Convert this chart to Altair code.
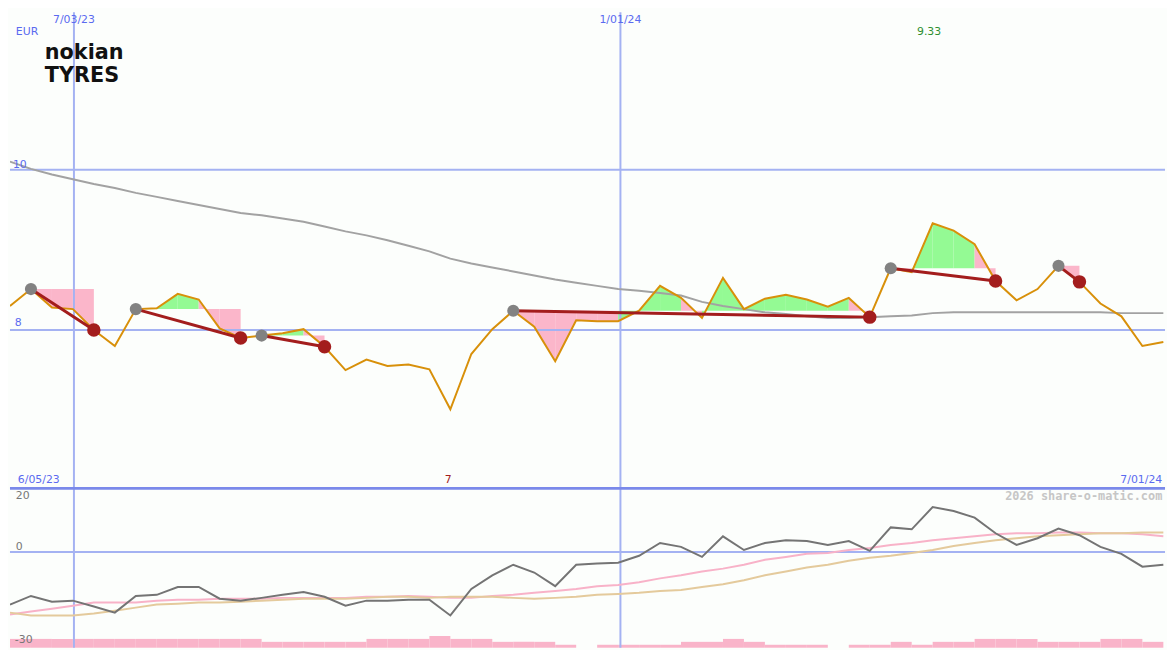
import altair as alt
import pandas as pd

# ---------------- data ----------------
# closing prices (EUR), one per observation, left to right
price = [8.30, 8.51, 8.28, 8.26, 8.00, 7.80, 8.26, 8.27, 8.45, 8.38,
         8.02, 7.90, 7.93, 7.96, 8.01, 7.79, 7.50, 7.63, 7.55, 7.57,
         7.51, 7.01, 7.70, 8.01, 8.24, 8.04, 7.61, 8.12, 8.11, 8.11,
         8.24, 8.55, 8.40, 8.15, 8.65, 8.26, 8.39, 8.44, 8.38, 8.29,
         8.40, 8.16, 8.77, 8.72, 9.33, 9.24, 9.07, 8.61, 8.37, 8.51,
         8.80, 8.60, 8.33, 8.17, 7.80, 7.85]
# long moving average (grey)
ma_long = [10.10, 10.01, 9.94, 9.88, 9.82, 9.77, 9.71, 9.66, 9.61, 9.56,
           9.51, 9.46, 9.43, 9.39, 9.35, 9.29, 9.23, 9.18, 9.12, 9.05,
           8.98, 8.89, 8.83, 8.78, 8.73, 8.68, 8.63, 8.59, 8.55, 8.51,
           8.49, 8.46, 8.43, 8.35, 8.30, 8.26, 8.22, 8.20, 8.17, 8.15,
           8.15, 8.16, 8.17, 8.18, 8.21, 8.22, 8.22, 8.22, 8.22, 8.22,
           8.22, 8.22, 8.22, 8.21, 8.21, 8.21]
# trade signals: entry (grey dot) and exit (red dot) observation numbers
buy_idx = [1, 6, 12, 24, 42, 50]
sell_idx = [4, 11, 15, 41, 47, 51]

# lower panel: oscillator (dark grey), fast (pink) and slow (tan) averages
osc = [-18.9, -15.8, -17.9, -17.5, -19.6, -21.8, -15.8, -15.4, -12.6, -12.6,
       -16.8, -17.5, -16.5, -15.4, -14.4, -16.1, -19.3, -17.5, -17.5, -17.2,
       -17.2, -22.8, -13.3, -8.4, -4.6, -7.4, -12.3, -4.6, -4.2, -3.9,
       -1.4, 3.2, 1.8, -1.8, 5.6, 0.7, 3.2, 4.2, 3.9, 2.5,
       3.9, 0.4, 8.8, 8.1, 16.1, 14.7, 12.3, 6.7, 2.5, 4.9,
       8.4, 6.0, 1.8, -0.7, -5.3, -4.6]
osc_fast = [-22.5, -21.4, -20.4, -19.3, -18.2, -18.2, -18.2, -17.5, -17.2, -17.2,
            -16.8, -16.8, -16.8, -16.5, -16.5, -16.5, -16.5, -16.1, -16.1, -15.8,
            -16.1, -16.5, -16.5, -15.8, -15.4, -14.7, -14.0, -13.3, -12.3, -11.9,
            -10.9, -9.5, -8.4, -7.0, -6.0, -4.6, -2.8, -1.8, -0.7, -0.4,
            0.7, 1.4, 2.5, 3.2, 4.2, 4.9, 5.6, 6.3, 6.7, 6.7,
            7.0, 7.0, 6.7, 6.7, 6.3, 5.6]
osc_slow = [-21.8, -22.8, -22.8, -22.8, -22.1, -21.1, -20.0, -18.9, -18.6, -18.2,
            -18.2, -17.9, -17.5, -17.2, -16.8, -16.8, -16.8, -16.5, -16.1, -16.1,
            -16.5, -16.1, -16.1, -16.1, -16.5, -16.8, -16.5, -16.1, -15.4, -15.1,
            -14.7, -14.0, -13.7, -12.6, -11.6, -10.2, -8.4, -7.0, -5.6, -4.6,
            -3.2, -2.1, -1.4, -0.4, 0.7, 2.1, 3.2, 4.2, 4.9, 5.6,
            6.0, 6.3, 6.7, 6.7, 7.0, 7.0]
# volume bars (relative units), one per interval between observations
volume = [3, 3, 3, 3, 3, 3, 3, 3, 3, 3, 3, 3,
          2, 2, 2, 2, 2, 3, 3, 3, 4, 3, 3, 2, 2, 2, 1, 0,
          1, 1, 1, 1, 2, 2, 3, 2, 1, 1, 1, 0, 1, 1, 2, 1,
          2, 2, 3, 3, 3, 2, 2, 2, 3, 3, 2]

# date gridlines (observation position) and labels
date_pos = [3.05, 29.11]
date_labels = ["7/03/23", "1/01/24"]
price_grid = [8, 10]
osc_labels = ["20", "0", "-30"]
period_labels = ["6/05/23", "7/01/24"]
max_label = "9.33"
min_label = "7"
currency = "EUR"
logo_lines = ["nokian", "TYRES"]

# ---------------- layout ----------------
W, H1, H2 = 1167, 481, 161
X_DOM = [0, 55.08]
P_DOM = [6.024, 11.963]
O_DOM = [-34.39, 22.81]
V_DOM = [0, 54.3]

BLUE_TXT = "#5a6af0"
GRID = "#a4b2f2"
BORDER = "#7a89ea"
BG = "#fcfefc"
FONT = "DejaVu Sans"

xs = alt.Scale(domain=X_DOM, nice=False, zero=False)
ps = alt.Scale(domain=P_DOM, nice=False, zero=False)
osc_s = alt.Scale(domain=O_DOM, nice=False, zero=False)
vs = alt.Scale(domain=V_DOM, nice=False, zero=False)

N = len(price)
df = pd.DataFrame({"i": list(range(N)), "price": price, "ma": ma_long,
                   "osc": osc, "fast": osc_fast, "slow": osc_slow})

X = alt.X("i:Q", scale=xs, axis=None)

# fills between price and entry level
rows = []
for seg, (b, s) in enumerate(zip(buy_idx, sell_idx)):
    lvl = price[b]
    for k in range(b, s):
        col = "up" if price[k + 1] >= lvl else "down"
        for j in (k, k + 1):
            rows.append({"g": f"{seg}-{k}", "i": j, "p": price[j], "lvl": lvl, "c": col})
fill_df = pd.DataFrame(rows)

fills = alt.Chart(fill_df).mark_area(opacity=1, clip=True).encode(
    x=X,
    y=alt.Y("p:Q", scale=ps, axis=None, stack=None),
    y2="lvl:Q",
    color=alt.Color("c:N", scale=alt.Scale(domain=["up", "down"], range=["#94fa94", "#fbb6ca"]), legend=None),
    detail="g:N",
)

sig_rows = []
for seg, (b, s) in enumerate(zip(buy_idx, sell_idx)):
    sig_rows.append({"seg": seg, "i": b, "p": price[b]})
    sig_rows.append({"seg": seg, "i": s, "p": price[s]})
sig_df = pd.DataFrame(sig_rows)
buy_df = pd.DataFrame({"i": buy_idx, "p": [price[b] for b in buy_idx]})
sell_df = pd.DataFrame({"i": sell_idx, "p": [price[s] for s in sell_idx]})

vgrid_df = pd.DataFrame({"i": date_pos})
pgrid_df = pd.DataFrame({"p": price_grid})

vgrid_up = alt.Chart(vgrid_df).mark_rule(color=GRID, strokeWidth=2).encode(x=X)
pgrid = alt.Chart(pgrid_df).mark_rule(color=GRID, strokeWidth=2).encode(
    y=alt.Y("p:Q", scale=ps, axis=None))

ma_line = alt.Chart(df).mark_line(color="#a2a2a2", strokeWidth=2, clip=True).encode(
    x=X, y=alt.Y("ma:Q", scale=ps, axis=None))
price_line = alt.Chart(df).mark_line(color="#d8900a", strokeWidth=2, clip=True).encode(
    x=X, y=alt.Y("price:Q", scale=ps, axis=None))
sig_lines = alt.Chart(sig_df).mark_line(color="#a31d1d", strokeWidth=3).encode(
    x=X, y=alt.Y("p:Q", scale=ps, axis=None), detail="seg:N")
buy_pts = alt.Chart(buy_df).mark_circle(color="#828282", size=150, opacity=1).encode(
    x=X, y=alt.Y("p:Q", scale=ps, axis=None))
sell_pts = alt.Chart(sell_df).mark_circle(color="#a31d1d", size=185, opacity=1).encode(
    x=X, y=alt.Y("p:Q", scale=ps, axis=None))


def text_layer(xv, yv, labels, scale, color, align="left", size=11,
               weight="normal", font=FONT, baseline="middle"):
    d = pd.DataFrame({"i": xv, "v": yv, "t": labels})
    return alt.Chart(d).mark_text(align=align, baseline=baseline, fontSize=size,
                                  font=font, fontWeight=weight, color=color).encode(
        x=X, y=alt.Y("v:Q", scale=scale, axis=None), text="t:N")


up_texts = [
    text_layer(date_pos, [11.866, 11.866], date_labels, ps, BLUE_TXT, align="center"),
    text_layer([0.28], [11.72], [currency], ps, BLUE_TXT),
    text_layer([43.83], [11.72], [max_label], ps, "#2f8f2f", align="center"),
    text_layer([0.14, 0.23], [10.06, 8.085], ["10", "8"], ps, BLUE_TXT),
    text_layer([0.375], [6.122], [period_labels[0]], ps, BLUE_TXT),
    text_layer([54.95], [6.122], [period_labels[1]], ps, BLUE_TXT, align="right"),
    text_layer([20.9], [6.122], [min_label], ps, "#a31d1d", align="center"),
    text_layer([1.66], [11.378], [logo_lines[0]], ps, "#111111", size=21,
               weight="bold", baseline="alphabetic"),
    text_layer([1.66], [11.098], [logo_lines[1]], ps, "#111111", size=21,
               weight="bold", baseline="alphabetic"),
]

upper = alt.layer(fills, vgrid_up, pgrid, ma_line, price_line, sig_lines, buy_pts, sell_pts,
                  *up_texts).properties(width=W, height=H1)

# ---------------- lower panel ----------------
vol_df = pd.DataFrame({"i": list(range(len(volume))),
                       "i2": [k + 1 for k in range(len(volume))],
                       "vol": volume})
vol_bars = alt.Chart(vol_df).mark_rect(color="#f9b4c9").encode(
    x=X, x2="i2:Q", y=alt.Y("vol:Q", scale=vs, axis=None), y2=alt.datum(0))

vgrid_lo = alt.Chart(vgrid_df).mark_rule(color=GRID, strokeWidth=2).encode(x=X)
zero_df = pd.DataFrame({"o": [0]})
zero_line = alt.Chart(zero_df).mark_rule(color=GRID, strokeWidth=2).encode(
    y=alt.Y("o:Q", scale=osc_s, axis=None))
top_df = pd.DataFrame({"o": [O_DOM[1]]})
top_line = alt.Chart(top_df).mark_rule(color=BORDER, strokeWidth=3).encode(
    y=alt.Y("o:Q", scale=osc_s, axis=None))

fast_line = alt.Chart(df).mark_line(color="#f8b2c8", strokeWidth=2, clip=True).encode(
    x=X, y=alt.Y("fast:Q", scale=osc_s, axis=None))
slow_line = alt.Chart(df).mark_line(color="#e4ca9c", strokeWidth=2, clip=True).encode(
    x=X, y=alt.Y("slow:Q", scale=osc_s, axis=None))
osc_line = alt.Chart(df).mark_line(color="#747474", strokeWidth=2, clip=True).encode(
    x=X, y=alt.Y("osc:Q", scale=osc_s, axis=None))

lo_texts = [
    text_layer([0.28, 0.28, 0.23], [20.0, 1.75, -31.6], osc_labels, osc_s, "#777777"),
    text_layer([54.95], [20.0], ["2026 share-o-matic.com"], osc_s, "#c6c6c6",
               align="right", size=12, weight="bold", font="DejaVu Sans Mono"),
]

osc_layers = alt.layer(vgrid_lo, zero_line, fast_line, slow_line, osc_line,
                       top_line, *lo_texts)
lower = alt.layer(vol_bars, osc_layers).resolve_scale(y="independent").properties(
    width=W, height=H2)

chart = alt.vconcat(upper, lower, spacing=0).properties(
    padding=0, background=BG, bounds="flush",
).configure_view(stroke=None)

chart.save("out.html", embed_options={"renderer": "svg", "actions": False})
